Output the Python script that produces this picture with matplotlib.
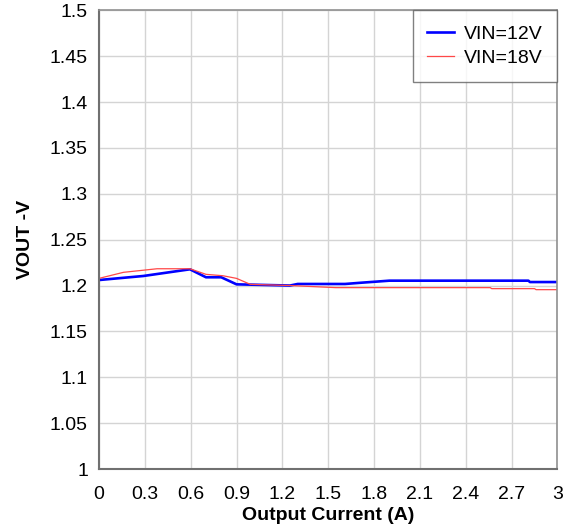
import matplotlib
matplotlib.use("Agg")
import matplotlib.pyplot as plt
import numpy as np

plt.rcParams["font.family"] = ["Liberation Sans", "DejaVu Sans"]

# load regulation, output current (A) vs VOUT (V)
current_12v = [0.0, 0.29, 0.595, 0.70, 0.80, 0.90, 1.25, 1.30, 1.61, 1.71, 1.81, 1.90, 2.81, 2.82, 3.0]
vout_12v = [1.206, 1.2104, 1.2177, 1.209, 1.209, 1.2013, 1.2000, 1.2017, 1.2017, 1.2030, 1.2042, 1.2053, 1.2053, 1.2038, 1.2038]

current_18v = [0.0, 0.16, 0.38, 0.595, 0.70, 0.81, 0.90, 0.99, 1.25, 1.55, 2.56, 2.57, 2.85, 2.86, 3.0]
vout_18v = [1.2078, 1.2144, 1.2183, 1.2183, 1.2122, 1.2107, 1.2078, 1.2013, 1.2000, 1.1977, 1.1977, 1.1966, 1.1966, 1.1955, 1.1955]

x_ticks = np.arange(0, 3.01, 0.3)
y_ticks = np.arange(1.0, 1.501, 0.05)

fig = plt.figure(figsize=(5.7, 5.29), dpi=100)
ax = fig.add_axes([0.1737, 0.1134, 0.8043, 0.8671])

ax.plot(current_12v, vout_12v, color="#0000ff", linewidth=1.9, label="VIN=12V")
ax.plot(current_18v, vout_18v, color="#ff4848", linewidth=0.9, label="VIN=18V")

ax.set_xlim(0, 3)
ax.set_ylim(1.0, 1.5)
ax.set_xticks(x_ticks, [f"{v:g}" for v in np.round(x_ticks, 1)])
ax.set_yticks(y_ticks, [f"{v:g}" for v in np.round(y_ticks, 2)])
ax.tick_params(axis="both", length=0, labelsize=14)
ax.tick_params(axis="x", pad=12)
ax.tick_params(axis="y", pad=8)
ax.grid(True, color="#d4d4d4", linewidth=1.0)
ax.set_axisbelow(True)
for side in ["left", "bottom"]:
    ax.spines[side].set_color("#707070")
    ax.spines[side].set_linewidth(1.5)
for side in ["top", "right"]:
    ax.spines[side].set_color("#909090")
    ax.spines[side].set_linewidth(1.2)

ax.set_xlabel("Output Current (A)", fontsize=14, fontweight="bold", labelpad=3)
ax.set_ylabel("VOUT -V", fontsize=14, fontweight="bold", labelpad=11)

leg = ax.legend(loc="upper right", fontsize=14, borderaxespad=0, fancybox=False,
                handlelength=1.4, handletextpad=0.5, borderpad=0.75, labelspacing=0.35)
leg.get_frame().set_edgecolor("#606060")
leg.get_frame().set_linewidth(1.0)

fig.savefig("out.png", dpi=100)
